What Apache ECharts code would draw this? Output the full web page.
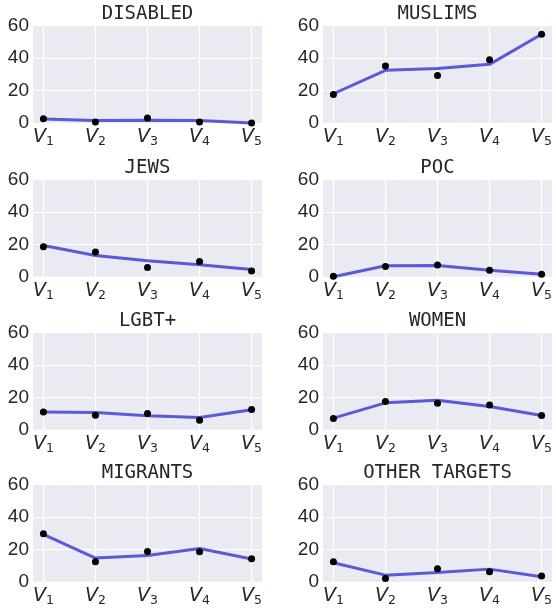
<!DOCTYPE html>
<html>
<head>
<meta charset="utf-8">
<script src="https://cdn.jsdelivr.net/npm/echarts@6/dist/echarts.min.js"></script>
<style>
html,body{margin:0;padding:0;background:#fff;}
#chart{width:556px;height:610px;}
</style>
</head>
<body>
<div id="chart"></div>
<script>
// ---- data ----
const categories = ['1', '2', '3', '4', '5']; // V subscripts
const yTicks = [0, 20, 40, 60];
const panelTitles = ['DISABLED', 'MUSLIMS', 'JEWS', 'POC', 'LGBT+', 'WOMEN', 'MIGRANTS', 'OTHER TARGETS'];

const disabledLine = [2.4, 1.5, 1.7, 1.5, 0];
const disabledDots = [2.6, 0.6, 3.1, 0.6, 0];
const muslimsLine = [18, 32.4, 33.5, 36.1, 54.6];
const muslimsDots = [17.5, 35.1, 29.2, 39, 54.6];
const jewsLine = [19.3, 13.1, 9.9, 7.4, 4.5];
const jewsDots = [18.5, 15.2, 5.7, 9.4, 3.5];
const pocLine = [0, 6.8, 7, 4.1, 1.6];
const pocDots = [0.4, 6.4, 7.2, 4.1, 1.6];
const lgbtLine = [10.9, 10.7, 8.6, 7.6, 12.3];
const lgbtDots = [10.9, 9, 10, 5.9, 12.5];
const womenLine = [7.2, 16.6, 18.2, 14.3, 8.8];
const womenDots = [7, 17.4, 16.4, 15.2, 8.8];
const migrantsLine = [29.2, 14.6, 16.2, 20.5, 14];
const migrantsDots = [29.6, 12.3, 18.7, 18.5, 14.2];
const otherLine = [11.7, 4.1, 5.7, 7.8, 3.1];
const otherDots = [12.3, 2, 8, 6.2, 3.5];

const lines = [disabledLine, muslimsLine, jewsLine, pocLine, lgbtLine, womenLine, migrantsLine, otherLine];
const dots = [disabledDots, muslimsDots, jewsDots, pocDots, lgbtDots, womenDots, migrantsDots, otherDots];

// ---- layout ----
const colLeft = [33, 323];
const plotW = 229;
const rowTop = [25.5, 179.3, 332.3, 484.3];
const plotH = 97.5;

const grids = [], xAxes = [], yAxes = [], series = [], titles = [];
const xIdx = categories.map((c, i) => i);

for (let p = 0; p < 8; p++) {
  const r = Math.floor(p / 2), c = p % 2;
  grids.push({
    left: colLeft[c], top: rowTop[r], width: plotW, height: plotH,
    show: true, backgroundColor: '#EAEAF2', borderWidth: 0
  });
  titles.push({
    text: panelTitles[p],
    left: colLeft[c] + plotW / 2,
    top: rowTop[r] - 21,
    textAlign: 'center',
    padding: 0,
    textStyle: { fontFamily: 'DejaVu Sans Mono', fontSize: 19, fontWeight: 'normal', color: '#262626' }
  });
  xAxes.push({
    gridIndex: p, type: 'value', min: -0.2, max: 4.2,
    axisLine: { show: false },
    axisTick: { show: false, customValues: xIdx },
    splitLine: { show: true, lineStyle: { color: '#ffffff', width: 1.2 } },
    axisLabel: {
      customValues: xIdx,
      margin: 3,
      formatter: v => '{v|V}{s|' + categories[Math.round(v)] + '}',
      rich: {
        v: { fontFamily: 'DejaVu Sans', fontStyle: 'italic', fontSize: 19, lineHeight: 22, color: '#262626' },
        s: { fontFamily: 'DejaVu Sans', fontSize: 12.5, lineHeight: 14, verticalAlign: 'bottom', color: '#262626' }
      }
    }
  });
  yAxes.push({
    gridIndex: p, type: 'value', min: 0, max: 60, interval: 20,
    axisLine: { show: false }, axisTick: { show: false },
    splitLine: { show: true, lineStyle: { color: '#ffffff', width: 1.2 } },
    axisLabel: { fontFamily: 'Liberation Sans', fontSize: 19, color: '#262626', margin: 4 }
  });
  series.push({
    type: 'line', xAxisIndex: p, yAxisIndex: p,
    data: lines[p].map((v, i) => [xIdx[i], v]),
    showSymbol: false, clip: false, silent: true,
    lineStyle: { color: '#5a5ad6', width: 3 }, itemStyle: { color: '#5a5ad6' }, z: 2
  });
  series.push({
    type: 'scatter', xAxisIndex: p, yAxisIndex: p,
    data: dots[p].map((v, i) => [xIdx[i], v]),
    symbolSize: 7, clip: false, silent: true,
    itemStyle: { color: '#000000', opacity: 1 }, z: 3
  });
}

const chart = echarts.init(document.getElementById('chart'), null, { renderer: 'canvas' });
chart.setOption({
  animation: false,
  backgroundColor: '#ffffff',
  title: titles,
  grid: grids,
  xAxis: xAxes,
  yAxis: yAxes,
  series: series
});
</script>
</body>
</html>
